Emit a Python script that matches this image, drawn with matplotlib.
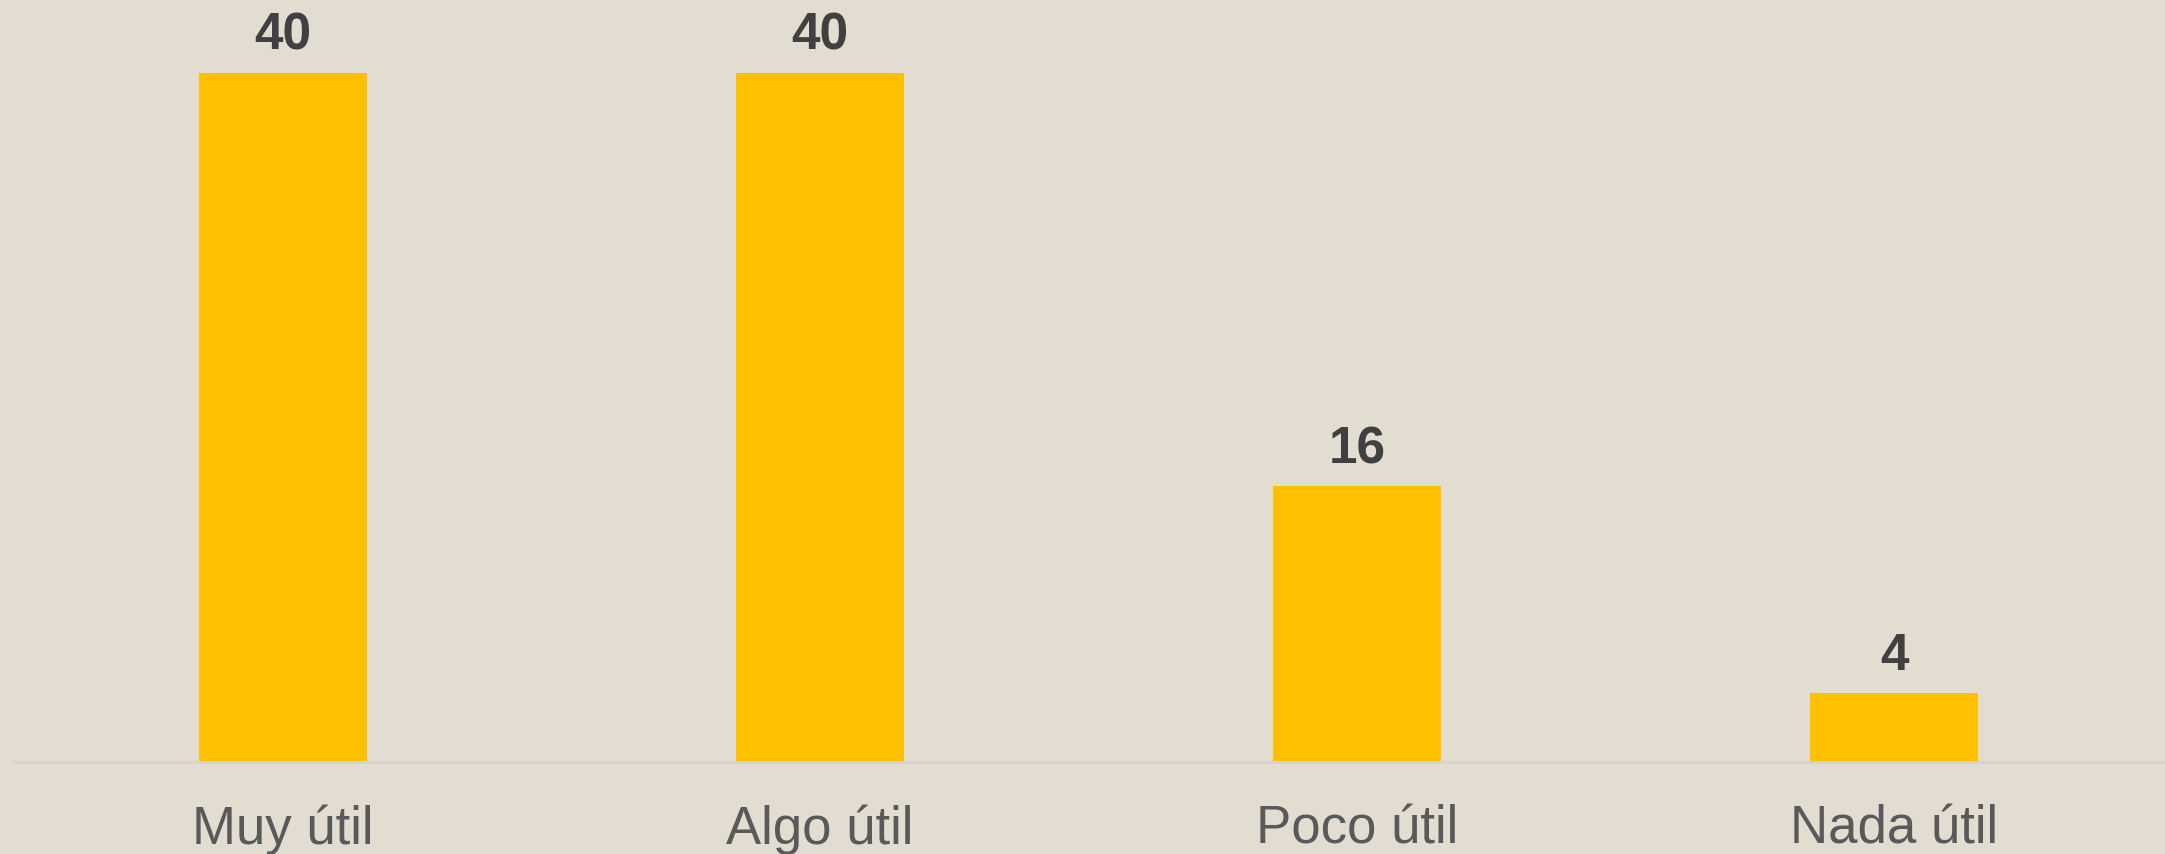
import matplotlib.pyplot as plt

# Data
categories = ["Muy útil", "Algo útil", "Poco útil", "Nada útil"]
values = [40, 40, 16, 4]

BG = "#E3DDD1"
BAR = "#FFC000"

plt.rcParams['font.family'] = ['Liberation Sans', 'DejaVu Sans']

fig = plt.figure(figsize=(21.65, 8.545), dpi=100, facecolor=BG)
ax = fig.add_axes([14 / 2165, 92 / 854, 2149 / 2165, 762 / 854])
ax.set_facecolor(BG)

x = range(len(categories))
bars = ax.bar(x, values, width=0.313, color=BAR)

# value labels above the bars
for b, v in zip(bars, values):
    ax.annotate(str(v), (b.get_x() + b.get_width() / 2, v), xytext=(0, 9),
                textcoords="offset points", ha="center", va="bottom",
                fontsize=37, fontweight="bold", color="#404040")

ax.set_xlim(-0.5, 3.5)
ax.set_ylim(0, 44.24)
ax.set_xticks(list(x))
ax.set_xticklabels(categories, fontsize=38, color="#595959")
ax.tick_params(axis="x", length=0, pad=30)
ax.set_yticks([])

for s in ["top", "left", "right"]:
    ax.spines[s].set_visible(False)
ax.spines["bottom"].set_color("#D6D3CD")
ax.spines["bottom"].set_linewidth(2)

fig.savefig("out.png", dpi=100, facecolor=BG)
